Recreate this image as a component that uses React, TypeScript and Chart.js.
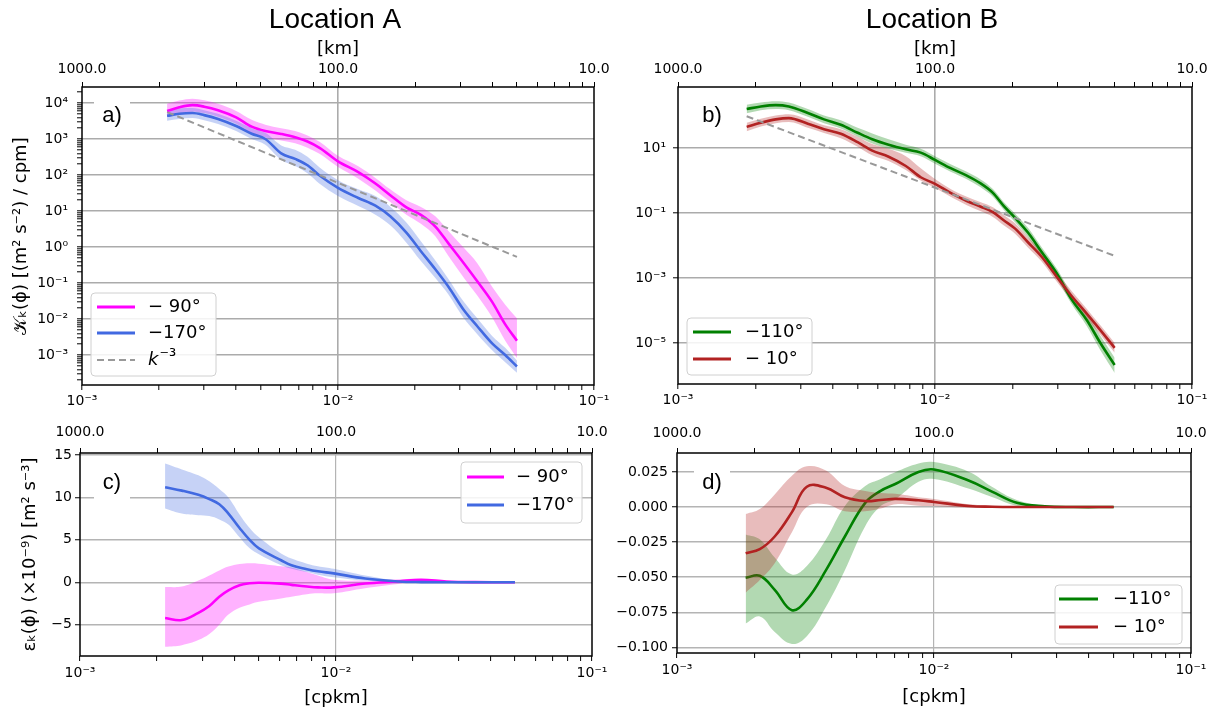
import React, { useEffect, useRef } from "react";
import { Chart, registerables } from "chart.js";
Chart.register(...registerables);

// ---------------- data ----------------
// Location A, spectra (panel a)
const kA = [0.00215, 0.0024, 0.0027, 0.003, 0.0034, 0.004, 0.0046, 0.0052, 0.006, 0.0068, 0.0076, 0.0085, 0.01, 0.012, 0.014, 0.016, 0.0185, 0.021, 0.024, 0.027, 0.031, 0.035, 0.04, 0.045, 0.05];
const specA90 = [6.0e3, 7.6e3, 8.7e3, 7.9e3, 6.3e3, 4.0e3, 2.2e3, 1.66e3, 1.38e3, 1.12e3, 8.5e2, 5.6e2, 2.4e2, 1.2e2, 58, 27.5, 12.6, 7.9, 3.7, 1.26, 0.355, 0.112, 0.03, 7.1e-3, 2.5e-3];
const specA90Hi = [9.5e3, 1.17e4, 1.32e4, 1.2e4, 9.5e3, 6.0e3, 3.4e3, 2.5e3, 2.0e3, 1.66e3, 1.26e3, 8.3e2, 3.4e2, 1.74e2, 83, 40, 20, 13.2, 7.1, 2.8, 0.95, 0.355, 0.079, 0.025, 0.0105];
const specA90Lo = [4.0e3, 5.0e3, 5.75e3, 5.25e3, 4.17e3, 2.63e3, 1.48e3, 1.1e3, 9.1e2, 7.6e2, 5.75e2, 3.8e2, 1.66e2, 79, 37, 17.8, 7.9, 4.5, 2.0, 0.56, 0.141, 0.045, 0.0112, 2.5e-3, 8.3e-4];
const specA170 = [4.4e3, 5.0e3, 5.25e3, 4.6e3, 3.6e3, 2.3e3, 1.4e3, 1.0e3, 4.0e2, 2.8e2, 1.86e2, 95, 44, 23, 14, 7.1, 2.5, 0.79, 0.24, 0.079, 0.0178, 6.3e-3, 2.1e-3, 1.0e-3, 4.8e-4];
const specA170Hi = [6.3e3, 7.1e3, 7.2e3, 6.3e3, 5.0e3, 3.2e3, 2.0e3, 1.48e3, 6.6e2, 5.0e2, 3.2e2, 1.58e2, 72, 40, 26, 13.2, 4.8, 1.5, 0.42, 0.13, 0.03, 0.0105, 3.4e-3, 1.58e-3, 7.1e-4];
const specA170Lo = [3.2e3, 3.6e3, 3.8e3, 3.3e3, 2.6e3, 1.66e3, 1.0e3, 6.9e2, 2.6e2, 1.78e2, 1.12e2, 56, 26, 13.8, 7.9, 4.0, 1.32, 0.42, 0.138, 0.048, 0.0105, 3.8e-3, 1.35e-3, 6.3e-4, 3.2e-4];
const refKA = [0.00215, 0.05];
const refA = [5600, 0.53];

// Location B, spectra (panel b)
const kB = [0.00185, 0.0021, 0.0024, 0.0027, 0.0032, 0.0037, 0.0043, 0.005, 0.0057, 0.0066, 0.0077, 0.0088, 0.01, 0.0115, 0.0133, 0.015, 0.0168, 0.0185, 0.0205, 0.023, 0.026, 0.03, 0.034, 0.039, 0.044, 0.05];
const specB110 = [158, 190, 209, 190, 120, 76, 52, 29.5, 18.6, 12.6, 9.1, 7.2, 4.3, 2.4, 1.41, 0.83, 0.417, 0.166, 0.071, 0.025, 6.3e-3, 1.26e-3, 2.2e-4, 5.0e-5, 1.0e-5, 2.1e-6];
const specB110Hi = [214, 251, 275, 251, 158, 100, 71, 41.7, 28.2, 18.6, 12.6, 9.5, 5.6, 3.16, 1.86, 1.1, 0.55, 0.219, 0.095, 0.035, 8.9e-3, 1.78e-3, 3.2e-4, 7.6e-5, 1.66e-5, 3.5e-6];
const specB110Lo = [117, 145, 158, 145, 91, 58, 40, 22.4, 13.8, 9.5, 7.2, 5.6, 3.3, 1.86, 1.1, 0.63, 0.316, 0.126, 0.052, 0.018, 4.5e-3, 8.9e-4, 1.58e-4, 3.3e-5, 6.0e-6, 1.2e-6];
const specB10 = [44.7, 60, 76, 83, 56, 38, 27.5, 15.1, 8.3, 5.4, 2.8, 1.26, 0.79, 0.417, 0.234, 0.158, 0.107, 0.06, 0.033, 0.0126, 4.5e-3, 1.0e-3, 2.8e-4, 7.9e-5, 2.5e-5, 7.1e-6];
const specB10Hi = [60, 79, 100, 110, 76, 50, 38, 22.4, 13.2, 9.5, 5.6, 2.4, 1.12, 0.55, 0.316, 0.219, 0.151, 0.087, 0.048, 0.018, 6.3e-3, 1.41e-3, 4.0e-4, 1.12e-4, 3.5e-5, 1.0e-5];
const specB10Lo = [33, 46, 58, 63, 42, 29, 20, 11, 6.0, 4.0, 2.1, 1.0, 0.6, 0.316, 0.174, 0.115, 0.076, 0.042, 0.023, 8.7e-3, 3.2e-3, 7.1e-4, 2.0e-4, 5.6e-5, 1.78e-5, 5.0e-6];
const refKB = [0.00185, 0.05];
const refB = [95, 0.0048];

// Location A, energy flux (panel c), units 1e-9 m2 s-3
const kC = [0.00215, 0.0025, 0.0029, 0.0032, 0.0035, 0.0038, 0.0042, 0.0046, 0.005, 0.0061, 0.0067, 0.0077, 0.0085, 0.0098, 0.013, 0.0175, 0.0215, 0.027, 0.035, 0.05];
const fluxC90 = [-4.2, -4.45, -3.6, -2.8, -1.7, -0.95, -0.35, -0.12, -0.05, -0.15, -0.3, -0.5, -0.6, -0.6, -0.15, 0.1, 0.3, 0.1, 0.02, 0];
const fluxC90Hi = [-0.55, -0.5, 0.2, 0.8, 1.4, 1.85, 2.15, 2.25, 2.2, 1.9, 1.75, 1.2, 0.8, 0.3, 0.2, 0.35, 0.4, 0.15, 0.03, 0];
const fluxC90Lo = [-7.6, -7.4, -6.8, -6.1, -5.0, -3.8, -3.0, -2.6, -2.3, -1.9, -1.7, -1.4, -1.3, -1.3, -0.7, -0.2, 0.15, 0.05, 0, 0];
const fluxC170 = [11.2, 10.8, 10.3, 9.8, 9.2, 8.1, 6.4, 5.0, 4.0, 2.6, 2.0, 1.55, 1.3, 1.05, 0.45, 0.1, 0.02, 0, 0, 0];
const fluxC170Hi = [14.0, 13.3, 12.6, 11.9, 11.0, 10.0, 8.0, 6.4, 5.3, 3.4, 2.8, 2.2, 1.9, 1.6, 0.8, 0.2, 0.05, 0, 0, 0];
const fluxC170Lo = [8.7, 8.1, 7.9, 7.8, 7.4, 6.8, 5.3, 4.0, 3.3, 2.0, 1.6, 1.2, 0.9, 0.6, 0.2, 0.0, 0, 0, 0, 0];

// Location B, energy flux (panel d)
const kD = [0.00185, 0.0021, 0.0024, 0.0028, 0.0032, 0.0038, 0.0045, 0.0054, 0.0062, 0.0071, 0.0087, 0.01, 0.0137, 0.0168, 0.021, 0.027, 0.035, 0.05];
const fluxD110 = [-0.0504, -0.049, -0.059, -0.0735, -0.066, -0.045, -0.021, 0.003, 0.0115, 0.0166, 0.025, 0.0267, 0.0187, 0.011, 0.003, 0.0005, 0, 0];
const fluxD110Hi = [-0.0195, -0.023, -0.036, -0.048, -0.042, -0.023, 0.0007, 0.015, 0.02, 0.025, 0.031, 0.032, 0.025, 0.0144, 0.005, 0.001, 0, 0];
const fluxD110Lo = [-0.083, -0.078, -0.089, -0.0975, -0.092, -0.071, -0.045, -0.0137, 0.0007, 0.0058, 0.018, 0.02, 0.013, 0.0072, 0.001, 0, 0, 0];
const fluxD10 = [-0.033, -0.03, -0.021, -0.0036, 0.0145, 0.0137, 0.007, 0.0043, 0.005, 0.0058, 0.0048, 0.0036, 0.0007, 0.0002, 0, 0, 0, 0];
const fluxD10Hi = [-0.005, -0.0014, 0.009, 0.0223, 0.029, 0.026, 0.015, 0.0115, 0.01, 0.0094, 0.007, 0.0058, 0.002, 0.001, 0, 0, 0, 0];
const fluxD10Lo = [-0.061, -0.052, -0.04, -0.018, 0.0, 0.002, -0.003, -0.003, -0.001, 0.002, 0.001, 0.0007, -0.0005, 0, 0, 0, 0, 0];

// tick values
const xDecades = [1e-3, 1e-2, 1e-1];
const yDecadesA = [1e-4, 1e-3, 1e-2, 1e-1, 1, 10, 100, 1e3, 1e4];
const yTicksB = [1e-5, 1e-3, 1e-1, 10];
const yTicksC = [-5, 0, 5, 10, 15];
const yTicksD = [-0.1, -0.075, -0.05, -0.025, 0, 0.025];
const minorMultipliers = [2, 3, 4, 5, 6, 7, 8, 9];

// legend labels
const legendA = ["− 90°", "−170°", "⁻³"];
const legendB = ["−110°", "− 10°"];

// ---------------- helpers ----------------
const SUP: Record<string, string> = { "-": "⁻", "0": "⁰", "1": "¹", "2": "²", "3": "³", "4": "⁴", "5": "⁵", "6": "⁶", "7": "⁷", "8": "⁸", "9": "⁹" };
const isDecade = (v: number) => {
  const l = Math.log10(v);
  return Math.abs(l - Math.round(l)) < 1e-6;
};
const pow10Label = (v: number) =>
  "10" + String(Math.round(Math.log10(v))).split("").map((c) => SUP[c]).join("");
const withMinors = (decades: number[], lo: number, hi: number) => {
  const out: number[] = [];
  for (const d of decades) {
    out.push(d);
    for (const m of minorMultipliers) out.push(Number((d * m).toPrecision(6)));
  }
  return out.filter((v) => v >= lo * 0.9999 && v <= hi * 1.0001).sort((a, b) => a - b);
};
const pts = (xs: number[], ys: number[]) => xs.map((x, i) => ({ x, y: ys[i] }));

const MAGENTA = "#ff00ff";
const BLUE = "#4169e1";
const GREEN = "#008000";
const RED = "#b22222";
const TICK_FONT = { family: "'DejaVu Sans', sans-serif", size: 14 };
const AXIS_FONT = { family: "'DejaVu Sans', sans-serif", size: 18 };

const smooth = (mono: boolean) =>
  mono ? { cubicInterpolationMode: "monotone" } : { cubicInterpolationMode: "default", tension: 0.4 };

const line = (xs: number[], ys: number[], color: string, order: number, mono = true) => ({
  data: pts(xs, ys),
  borderColor: color,
  borderWidth: 2.6,
  pointRadius: 0,
  fill: false,
  order,
  ...smooth(mono),
});
const band = (xs: number[], hi: number[], lo: number[], color: string, order: number, mono = true) => [
  {
    data: pts(xs, hi),
    borderWidth: 0,
    borderColor: "rgba(0,0,0,0)",
    backgroundColor: color,
    pointRadius: 0,
    fill: "+1",
    order,
    ...smooth(mono),
  },
  {
    data: pts(xs, lo),
    borderWidth: 0,
    borderColor: "rgba(0,0,0,0)",
    pointRadius: 0,
    fill: false,
    order,
    ...smooth(mono),
  },
];
const dashed = (xs: number[], ys: number[], order: number) => ({
  data: pts(xs, ys),
  borderColor: "#999999",
  borderWidth: 2,
  borderDash: [7, 4],
  pointRadius: 0,
  fill: false,
  tension: 0,
  order,
});

// ---------------- decoration plugin ----------------
const decorPlugin = {
  id: "decor",
  afterDatasetsDraw(chart: any, _args: any, opts: any) {
    const ctx = chart.ctx as CanvasRenderingContext2D;
    const ca = chart.chartArea;
    ctx.save();
    ctx.strokeStyle = "#000";
    ctx.lineWidth = 1.5;
    ctx.setLineDash([]);
    ctx.strokeRect(ca.left, ca.top, ca.right - ca.left, ca.bottom - ca.top);
    if (opts.letter) {
      const L = opts.letter;
      ctx.fillStyle = "#fff";
      ctx.fillRect(L.x - 18, L.y - 17, 36, 34);
      ctx.fillStyle = "#000";
      ctx.font = "22px 'Liberation Sans', Arial, sans-serif";
      ctx.textAlign = "center";
      ctx.textBaseline = "middle";
      ctx.fillText(L.text, L.x, L.y);
    }
    if (opts.title) {
      const T = opts.title;
      ctx.fillStyle = "#000";
      ctx.font = "28px 'Liberation Sans', Arial, sans-serif";
      ctx.textAlign = "center";
      ctx.textBaseline = "alphabetic";
      ctx.fillText(T.text, T.x, T.y);
    }
    if (opts.legend) {
      const G = opts.legend;
      ctx.beginPath();
      const r = 4;
      const { x, y, w, h } = G;
      ctx.moveTo(x + r, y);
      ctx.lineTo(x + w - r, y);
      ctx.quadraticCurveTo(x + w, y, x + w, y + r);
      ctx.lineTo(x + w, y + h - r);
      ctx.quadraticCurveTo(x + w, y + h, x + w - r, y + h);
      ctx.lineTo(x + r, y + h);
      ctx.quadraticCurveTo(x, y + h, x, y + h - r);
      ctx.lineTo(x, y + r);
      ctx.quadraticCurveTo(x, y, x + r, y);
      ctx.closePath();
      ctx.fillStyle = "rgba(255,255,255,0.85)";
      ctx.fill();
      ctx.strokeStyle = "#d0d0d0";
      ctx.lineWidth = 1;
      ctx.stroke();
      for (const row of G.rows) {
        ctx.beginPath();
        ctx.strokeStyle = row.color;
        ctx.lineWidth = row.dash ? 2 : 3;
        ctx.setLineDash(row.dash ? [7, 4] : []);
        ctx.moveTo(G.sx0, row.y);
        ctx.lineTo(G.sx1, row.y);
        ctx.stroke();
        ctx.setLineDash([]);
        ctx.fillStyle = "#000";
        ctx.textAlign = "left";
        ctx.textBaseline = "middle";
        let tx = G.tx;
        if (row.italic) {
          ctx.font = "italic 18px 'DejaVu Sans', sans-serif";
          ctx.fillText(row.italic, tx, row.y);
          tx += ctx.measureText(row.italic).width + 1;
        }
        ctx.font = "18px 'DejaVu Sans', sans-serif";
        ctx.fillText(row.label, tx, row.y - (row.italic ? 3 : 0));
      }
    }
    ctx.restore();
  },
};

// ---------------- chart builder ----------------
type Spec = {
  datasets: any[];
  yType: "logarithmic" | "linear";
  yMin: number;
  yMax: number;
  yTickValues: number[];
  yGridValues: number[];
  yLabel: (v: number) => string;
  yTitle?: string;
  yTitlePad?: number;
  yWidth: number;
  yTickPad: number;
  padRight: number;
  topH: number;
  topTitle?: string;
  topTitlePad?: number;
  topTickPad: number;
  bottomH: number;
  bottomTitle?: string;
  bottomTitlePad?: number;
  bottomTickPad: number;
  hGridW: number;
  vGridW: number;
  gridColor: string;
  decor: any;
};

const xTickValues = withMinors(xDecades, 1e-3, 1e-1);
const near = (a: number, b: number) => Math.abs(a - b) <= Math.abs(b) * 1e-6 + 1e-12;

function buildConfig(s: Spec): any {
  return {
    type: "line",
    data: { datasets: s.datasets },
    options: {
      responsive: false,
      animation: false,
      devicePixelRatio: 1,
      events: [],
      layout: { padding: { left: 0, top: 0, right: s.padRight, bottom: 0 } },
      plugins: {
        legend: { display: false },
        title: { display: false },
        tooltip: { enabled: false },
        decor: s.decor,
      },
      scales: {
        x: {
          type: "logarithmic",
          position: "bottom",
          min: 1e-3,
          max: 1e-1,
          afterBuildTicks: (sc: any) => {
            sc.ticks = xTickValues.map((v) => ({ value: v }));
          },
          afterFit: (sc: any) => {
            sc.height = s.bottomH;
            sc.paddingLeft = 0;
            sc.paddingRight = 0;
          },
          ticks: {
            autoSkip: false,
            maxRotation: 0,
            minRotation: 0,
            padding: s.bottomTickPad,
            color: "#000",
            font: TICK_FONT,
            callback: (v: any) => (isDecade(Number(v)) ? pow10Label(Number(v)) : ""),
          },
          grid: {
            color: (c: any) => (c.tick && near(c.tick.value, 1e-2) ? s.gridColor : "rgba(0,0,0,0)"),
            lineWidth: s.vGridW,
            tickColor: "#000",
            tickLength: 5,
            tickWidth: 1,
          },
          border: { display: false },
          title: s.bottomTitle
            ? { display: true, text: s.bottomTitle, color: "#000", font: AXIS_FONT, padding: { top: 0, bottom: s.bottomTitlePad } }
            : { display: false },
        },
        x2: {
          type: "logarithmic",
          position: "top",
          min: 1e-3,
          max: 1e-1,
          afterBuildTicks: (sc: any) => {
            sc.ticks = xTickValues.map((v) => ({ value: v }));
          },
          afterFit: (sc: any) => {
            sc.height = s.topH;
            sc.paddingLeft = 0;
            sc.paddingRight = 0;
          },
          ticks: {
            autoSkip: false,
            maxRotation: 0,
            minRotation: 0,
            padding: s.topTickPad,
            color: "#000",
            font: TICK_FONT,
            callback: (v: any) => (isDecade(Number(v)) ? (1 / Number(v)).toFixed(1) : ""),
          },
          grid: {
            drawOnChartArea: false,
            color: "#000",
            tickColor: "#000",
            tickLength: 5,
            tickWidth: 1,
          },
          border: { display: false },
          title: s.topTitle
            ? { display: true, text: s.topTitle, color: "#000", font: AXIS_FONT, padding: { top: s.topTitlePad, bottom: 0 } }
            : { display: false },
        },
        y: {
          type: s.yType,
          position: "left",
          min: s.yMin,
          max: s.yMax,
          afterBuildTicks: (sc: any) => {
            sc.ticks = s.yTickValues.map((v) => ({ value: v }));
          },
          afterFit: (sc: any) => {
            sc.width = s.yWidth;
            sc.paddingTop = 0;
            sc.paddingBottom = 0;
          },
          ticks: {
            autoSkip: false,
            padding: s.yTickPad,
            color: "#000",
            font: TICK_FONT,
            callback: (v: any) => s.yLabel(Number(v)),
          },
          grid: {
            color: (c: any) =>
              c.tick && s.yGridValues.some((g) => near(c.tick.value, g)) ? s.gridColor : "rgba(0,0,0,0)",
            lineWidth: s.hGridW,
            tickColor: "#000",
            tickLength: 5,
            tickWidth: 1,
          },
          border: { display: false },
          title: s.yTitle
            ? { display: true, text: s.yTitle, color: "#000", font: AXIS_FONT, padding: { top: s.yTitlePad, bottom: 0 } }
            : { display: false },
        },
      },
    },
    plugins: [decorPlugin],
  };
}

// ---------------- panel specs ----------------
const yMinA = 1.47e-4;
const yMaxA = 2.78e4;
const yTicksA = withMinors(yDecadesA, yMinA, yMaxA);
const yLabeledA = yDecadesA.filter((v) => v >= yMinA && v <= yMaxA);

const specA: Spec = {
  datasets: [
    ...band(kA, specA90Hi, specA90Lo, "rgba(255,0,255,0.3)", 6),
    ...band(kA, specA170Hi, specA170Lo, "rgba(65,105,225,0.3)", 5),
    line(kA, specA90, MAGENTA, 4),
    line(kA, specA170, BLUE, 3),
    dashed(refKA, refA, 1),
  ],
  yType: "logarithmic",
  yMin: yMinA,
  yMax: yMaxA,
  yTickValues: yTicksA,
  yGridValues: yLabeledA,
  yLabel: (v) => (yLabeledA.some((g) => near(v, g)) ? pow10Label(v) : ""),
  yTitle: "𝒦ₖ(ϕ) [(m² s⁻²) / cpm]",
  yTitlePad: 11,
  yWidth: 82,
  yTickPad: 9,
  padRight: 18,
  topH: 87,
  topTitle: "[km]",
  topTitlePad: 39,
  topTickPad: 4,
  bottomH: 35,
  bottomTickPad: 3,
  hGridW: 1.6,
  vGridW: 1.6,
  gridColor: "#ababab",
  decor: {
    title: { text: "Location A", x: 335, y: 28 },
    letter: { text: "a)", x: 112, y: 116 },
    legend: {
      x: 91, y: 293, w: 125, h: 83, sx0: 97, sx1: 135, tx: 148,
      rows: [
        { y: 307, color: MAGENTA, label: legendA[0] },
        { y: 333, color: BLUE, label: legendA[1] },
        { y: 360, color: "#999999", dash: true, italic: "k", label: legendA[2] },
      ],
    },
  },
};

const specB: Spec = {
  datasets: [
    ...band(kB, specB110Hi, specB110Lo, "rgba(0,128,0,0.3)", 6),
    ...band(kB, specB10Hi, specB10Lo, "rgba(178,34,34,0.3)", 5),
    line(kB, specB110, GREEN, 4),
    line(kB, specB10, RED, 3),
    dashed(refKB, refB, 1),
  ],
  yType: "logarithmic",
  yMin: 5.47e-7,
  yMax: 754,
  yTickValues: yTicksB,
  yGridValues: yTicksB,
  yLabel: (v) => pow10Label(v),
  yWidth: 66,
  yTickPad: 7,
  padRight: 32,
  topH: 87,
  topTitle: "[km]",
  topTitlePad: 39,
  topTickPad: 4,
  bottomH: 36,
  bottomTickPad: 3,
  hGridW: 1.6,
  vGridW: 1.6,
  gridColor: "#ababab",
  decor: {
    title: { text: "Location B", x: 320, y: 28 },
    letter: { text: "b)", x: 100, y: 116 },
    legend: {
      x: 75, y: 318, w: 125, h: 57, sx0: 81, sx1: 119, tx: 133,
      rows: [
        { y: 332, color: GREEN, label: legendB[0] },
        { y: 359, color: RED, label: legendB[1] },
      ],
    },
  },
};

const specC: Spec = {
  datasets: [
    ...band(kC, fluxC90Hi, fluxC90Lo, "rgba(255,0,255,0.3)", 6, false),
    ...band(kC, fluxC170Hi, fluxC170Lo, "rgba(65,105,225,0.3)", 5, false),
    line(kC, fluxC90, MAGENTA, 4, false),
    line(kC, fluxC170, BLUE, 3, false),
  ],
  yType: "linear",
  yMin: -8.68,
  yMax: 15.23,
  yTickValues: yTicksC,
  yGridValues: yTicksC,
  yLabel: (v) => String(v).replace("-", "−"),
  yTitle: "εₖ(ϕ) (×10⁻⁹) [m² s⁻³]",
  yTitlePad: 20,
  yWidth: 80,
  yTickPad: 3,
  padRight: 20,
  topH: 33,
  topTickPad: 7,
  bottomH: 60,
  bottomTitle: "[cpkm]",
  bottomTitlePad: 7,
  bottomTickPad: 4,
  hGridW: 1.5,
  vGridW: 1.2,
  gridColor: "#b4b4b4",
  decor: {
    letter: { text: "c)", x: 112, y: 63 },
    legend: {
      x: 461, y: 42, w: 121, h: 61, sx0: 467, sx1: 504, tx: 516,
      rows: [
        { y: 57, color: MAGENTA, label: legendA[0] },
        { y: 85, color: BLUE, label: legendA[1] },
      ],
    },
  },
};

const specD: Spec = {
  datasets: [
    ...band(kD, fluxD110Hi, fluxD110Lo, "rgba(0,128,0,0.3)", 6, false),
    line(kD, fluxD110, GREEN, 5, false),
    ...band(kD, fluxD10Hi, fluxD10Lo, "rgba(178,34,34,0.3)", 4, false),
    line(kD, fluxD10, RED, 3, false),
  ],
  yType: "linear",
  yMin: -0.104,
  yMax: 0.0385,
  yTickValues: yTicksD,
  yGridValues: yTicksD,
  yLabel: (v) => v.toFixed(3).replace("-", "−"),
  yWidth: 65,
  yTickPad: 4,
  padRight: 33,
  topH: 33,
  topTickPad: 6,
  bottomH: 63,
  bottomTitle: "[cpkm]",
  bottomTitlePad: 8,
  bottomTickPad: 4,
  hGridW: 1.5,
  vGridW: 1.2,
  gridColor: "#b4b4b4",
  decor: {
    letter: { text: "d)", x: 100, y: 63 },
    legend: {
      x: 443, y: 165, w: 127, h: 59, sx0: 447, sx1: 486, tx: 501,
      rows: [
        { y: 179, color: GREEN, label: legendB[0] },
        { y: 207, color: RED, label: legendB[1] },
      ],
    },
  },
};

// ---------------- components ----------------
function Panel(props: { spec: Spec; left: number; top: number; width: number; height: number }) {
  const ref = useRef<HTMLCanvasElement>(null);
  useEffect(() => {
    if (!ref.current) return;
    const chart = new Chart(ref.current, buildConfig(props.spec));
    return () => chart.destroy();
  }, []);
  return (
    <canvas
      ref={ref}
      width={props.width}
      height={props.height}
      style={{ position: "absolute", left: props.left, top: props.top, width: props.width, height: props.height }}
    />
  );
}

export default function App() {
  return (
    <div style={{ position: "absolute", left: 0, top: 0, width: 1224, height: 716, background: "#fff", overflow: "hidden" }}>
      <Panel spec={specA} left={0} top={0} width={612} height={420} />
      <Panel spec={specB} left={612} top={0} width={612} height={420} />
      <Panel spec={specC} left={0} top={420} width={612} height={296} />
      <Panel spec={specD} left={612} top={420} width={612} height={296} />
    </div>
  );
}
